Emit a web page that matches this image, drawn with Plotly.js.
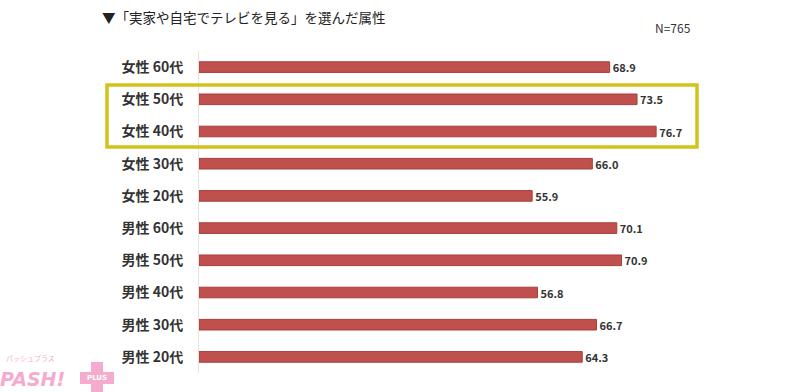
<!DOCTYPE html>
<html>
<head>
<meta charset="utf-8">
<script src="https://cdn.plot.ly/plotly-3.0.1.min.js"></script>
<style>html,body{margin:0;padding:0;background:#fff;}#chart{width:800px;height:392px;}</style>
</head>
<body>
<div id="chart"></div>
<script>
const categories = ["女性 60代","女性 50代","女性 40代","女性 30代","女性 20代","男性 60代","男性 50代","男性 40代","男性 30代","男性 20代"];
const values = [68.9, 73.5, 76.7, 66.0, 55.9, 70.1, 70.9, 56.8, 66.7, 64.3];
const valueLabels = ["68.9","73.5","76.7","66.0","55.9","70.1","70.9","56.8","66.7","64.3"];
const chartTitle = "▼「実家や自宅でテレビを見る」を選んだ属性";
const sampleNote = "N=765";

const FONT = "'Noto Sans CJK JP', 'Noto Sans', sans-serif";
const PINK = "#f5abcd";

// plot area in px
const L = 199, R = 760, T = 51, B = 373;
const pxPerUnit = 5.96;
const xMax = (R - L) / pxPerUnit;
const px2x = p => (p - L) / (R - L);
const px2y = p => (B - p) / (B - T);

const trace = {
  type: "bar",
  orientation: "h",
  y: categories,
  x: values,
  text: valueLabels,
  textposition: "outside",
  constraintext: "none",
  cliponaxis: false,
  textfont: {family: FONT, size: 11, color: "#333333", weight: "bold"},
  marker: {color: "#c0504d", line: {color: "#a93e3b", width: 1}},
  hoverinfo: "none"
};

const layout = {
  width: 800, height: 392,
  margin: {l: L, r: 800 - R, t: T, b: 392 - B, pad: 0},
  paper_bgcolor: "#ffffff", plot_bgcolor: "#ffffff",
  showlegend: false,
  bargap: 0.67,
  title: {
    text: chartTitle,
    font: {family: FONT, size: 13.5, color: "#222222"},
    xref: "container", yref: "container",
    x: 102 / 800, xanchor: "left",
    y: 1 - 18 / 392, yanchor: "middle"
  },
  xaxis: {
    range: [0, xMax], showgrid: false, zeroline: false,
    showticklabels: false, showline: false, fixedrange: true
  },
  yaxis: {
    type: "category", autorange: "reversed",
    showgrid: false, zeroline: false,
    showline: true, linecolor: "#e3e3e3", linewidth: 1,
    ticks: "", ticklabelstandoff: 12,
    tickfont: {family: FONT, size: 14, color: "#333333", weight: "bold"}
  },
  shapes: [
    {type: "rect", xref: "paper", yref: "paper",
     x0: px2x(107), x1: px2x(697), y0: px2y(147), y1: px2y(85),
     line: {color: "#d4c21c", width: 3.5}, fillcolor: "rgba(0,0,0,0)"},
    // logo "+" mark
    {type: "rect", xref: "paper", yref: "paper",
     x0: px2x(91), x1: px2x(103), y0: px2y(392), y1: px2y(362),
     line: {width: 0}, fillcolor: PINK, layer: "above"},
    {type: "rect", xref: "paper", yref: "paper",
     x0: px2x(80), x1: px2x(114), y0: px2y(384), y1: px2y(372),
     line: {width: 0}, fillcolor: PINK, layer: "above"}
  ],
  annotations: [
    {text: sampleNote, xref: "paper", yref: "paper", x: px2x(693), y: px2y(27),
     xanchor: "right", yanchor: "middle", showarrow: false,
     font: {family: FONT, size: 12, color: "#333333"}},
    {text: "<b><i>PASH!</i></b>", xref: "paper", yref: "paper", x: px2x(-1), y: px2y(379),
     xanchor: "left", yanchor: "middle", showarrow: false, borderpad: 0,
     font: {family: "'DejaVu Sans', sans-serif", size: 19, color: PINK}},
    {text: "<b>PLUS</b>", xref: "paper", yref: "paper", x: px2x(97), y: px2y(378),
     xanchor: "center", yanchor: "middle", showarrow: false,
     font: {family: "'DejaVu Sans', sans-serif", size: 7, color: "#ffffff"}},
    {text: "パッシュプラス", xref: "paper", yref: "paper", x: px2x(5), y: px2y(358),
     xanchor: "left", yanchor: "middle", showarrow: false, borderpad: 0,
     font: {family: FONT, size: 7, color: PINK}}
  ]
};

Plotly.newPlot("chart", [trace], layout, {displayModeBar: false, staticPlot: true});
</script>
</body>
</html>
